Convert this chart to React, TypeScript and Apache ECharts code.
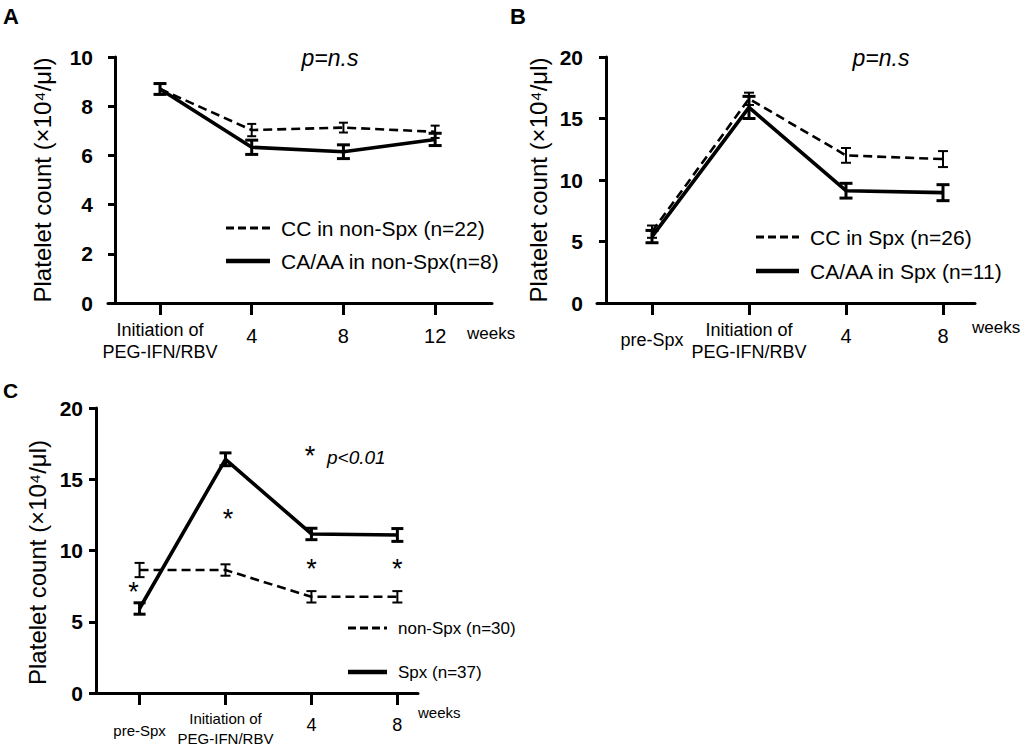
import React, { useEffect, useRef } from 'react';
import * as echarts from 'echarts';

// ---- Data ----
const catsA = ['Initiation of\nPEG-IFN/RBV', '4', '8', '12'];
const catsBC = ['pre-Spx', 'Initiation of\nPEG-IFN/RBV', '4', '8'];

const namesA = ['CC in non-Spx (n=22)', 'CA/AA in non-Spx(n=8)'];
const aCC = [8.7, 7.03, 7.13, 6.96];
const aCCErr = [0.22, 0.25, 0.2, 0.25];
const aCA = [8.7, 6.33, 6.15, 6.65];
const aCAErr = [0.22, 0.29, 0.28, 0.25];

const namesB = ['CC in Spx (n=26)', 'CA/AA in Spx (n=11)'];
const bCC = [5.8, 16.6, 12.0, 11.7];
const bCCErr = [0.5, 0.5, 0.6, 0.65];
const bCA = [5.4, 15.9, 9.13, 8.97];
const bCAErr = [0.5, 0.9, 0.6, 0.65];

const namesC = ['non-Spx (n=30)', 'Spx (n=37)'];
const cNon = [8.63, 8.63, 6.75, 6.75];
const cNonErr = [0.5, 0.4, 0.4, 0.4];
const cSpx = [5.93, 16.4, 11.16, 11.09];
const cSpxErr = [0.4, 0.45, 0.4, 0.45];
const cStarX = [-0.07, 1.03, 2, 3];
const cStarY = [7.4, 12.5, 9.0, 9.0];

const yNameText = 'Platelet count (×10⁴/μl)';
const FONT = '"Liberation Sans", Arial, Helvetica, sans-serif';

const DASH = [9, 5];

function labelFormatter(cats: string[]) {
  return (v: number) => {
    const s = cats[Math.round(v)];
    if (s === undefined) return '';
    if (s.indexOf('\n') >= 0) return s.split('\n').map((l) => `{t|${l}}`).join('\n');
    if (s === 'pre-Spx') return `{p|${s}}`;
    return `{n|${s}}`;
  };
}

function errSeries(idx: number, means: number[], errs: number[], cap: number, w: number) {
  return {
    type: 'custom',
    xAxisIndex: idx,
    yAxisIndex: idx,
    silent: true,
    z: 4,
    encode: { x: 0, y: [1, 2] },
    data: means.map((m, i) => [i, m - errs[i], m + errs[i]]),
    renderItem: (params: any, api: any) => {
      const lo = api.coord([api.value(0), api.value(1)]);
      const hi = api.coord([api.value(0), api.value(2)]);
      const style = { stroke: '#000', lineWidth: w };
      return {
        type: 'group',
        children: [
          { type: 'line', shape: { x1: lo[0], y1: lo[1], x2: hi[0], y2: hi[1] }, style },
          { type: 'line', shape: { x1: lo[0] - cap, y1: lo[1], x2: lo[0] + cap, y2: lo[1] }, style },
          { type: 'line', shape: { x1: hi[0] - cap, y1: hi[1], x2: hi[0] + cap, y2: hi[1] }, style },
        ],
      };
    },
  };
}

function lineSeries(idx: number, name: string, means: number[], dashed: boolean) {
  return {
    type: 'line',
    name,
    xAxisIndex: idx,
    yAxisIndex: idx,
    data: means.map((m, i) => [i, m]),
    symbol: 'none',
    silent: true,
    z: 3,
    lineStyle: { color: '#000', width: dashed ? 2.6 : 3.6, type: dashed ? DASH : 'solid' },
  };
}

function legendGraphic(x1: number, x2: number, y: number, gap: number, names: string[], fs: number) {
  return [
    { type: 'line', shape: { x1, y1: y, x2, y2: y }, style: { stroke: '#000', lineWidth: 3, lineDash: [8, 4] } },
    { type: 'line', shape: { x1, y1: y + gap, x2, y2: y + gap }, style: { stroke: '#000', lineWidth: 4.5 } },
    { type: 'text', x: x2 + 11, y, style: { text: names[0], font: `${fs}px ${FONT}`, fill: '#000', verticalAlign: 'middle', align: 'left' } },
    { type: 'text', x: x2 + 11, y: y + gap, style: { text: names[1], font: `${fs}px ${FONT}`, fill: '#000', verticalAlign: 'middle', align: 'left' } },
  ];
}

export default function App() {
  const ref = useRef<HTMLDivElement>(null);
  useEffect(() => {
    if (!ref.current) return;
    const chart = echarts.init(ref.current, null, { renderer: 'svg' });

    const axisLineStyle = { color: '#000', width: 3 };
    const mkX = (gi: number, min: number, max: number, cats: string[], margin: number, rich: any) => ({
      type: 'value',
      gridIndex: gi,
      min,
      max,
      axisLine: { show: true, onZero: false, lineStyle: axisLineStyle },
      axisTick: { show: true, customValues: [0, 1, 2, 3], length: 12, lineStyle: { color: '#000', width: 3 } },
      axisLabel: {
        show: true,
        customValues: [0, 1, 2, 3],
        formatter: labelFormatter(cats),
        margin,
        color: '#000',
        fontFamily: FONT,
        rich,
      },
      splitLine: { show: false },
    });
    const mkY = (gi: number, max: number, interval: number, offset: number, margin: number, nameGap: number, namePad: number[]) => ({
      type: 'value',
      gridIndex: gi,
      min: 0,
      max,
      interval,
      offset,
      name: yNameText,
      nameLocation: 'middle',
      nameGap,
      nameTextStyle: { fontSize: 24, color: '#000', fontFamily: FONT, padding: namePad },
      axisLine: { show: true, onZero: false, lineStyle: axisLineStyle },
      axisTick: { show: true, length: 7, lineStyle: { color: '#000', width: 3 } },
      axisLabel: { fontSize: 21, fontWeight: 'bold', color: '#000', fontFamily: FONT, margin },
      splitLine: { show: false },
    });

    const richAB = {
      t: { fontSize: 18, lineHeight: 22, color: '#000', fontFamily: FONT },
      n: { fontSize: 20, lineHeight: 34, color: '#000', fontFamily: FONT },
      p: { fontSize: 18, lineHeight: 42, color: '#000', fontFamily: FONT },
    };
    const richC = {
      t: { fontSize: 15, lineHeight: 20, color: '#000', fontFamily: FONT },
      n: { fontSize: 18, lineHeight: 34, color: '#000', fontFamily: FONT },
      p: { fontSize: 15, lineHeight: 44, color: '#000', fontFamily: FONT },
    };

    const option: any = {
      animation: false,
      backgroundColor: '#fff',
      grid: [
        { left: 108, top: 57, width: 384, height: 246 },
        { left: 597, top: 57, width: 378, height: 246 },
        { left: 91, top: 408, width: 327, height: 285 },
      ],
      xAxis: [
        mkX(0, -0.567, 3.62, catsA, 16, richAB),
        mkX(1, -0.567, 3.33, catsBC, 16, richAB),
        mkX(2, -0.565, 3.24, catsBC, 15, richC),
      ],
      yAxis: [
        mkY(0, 10, 2, -7, 22, 61, [0, 0, 0, 0]),
        mkY(1, 20, 5, -9, 23, 56, [0, 0, 0, 0]),
        mkY(2, 20, 5, -5, 13, 47, [0, 24, 0, 0]),
      ],
      series: [
        lineSeries(0, namesA[0], aCC, true),
        lineSeries(0, namesA[1], aCA, false),
        errSeries(0, aCC, aCCErr, 4.5, 2),
        errSeries(0, aCA, aCAErr, 6.5, 3),
        lineSeries(1, namesB[0], bCC, true),
        lineSeries(1, namesB[1], bCA, false),
        errSeries(1, bCC, bCCErr, 5, 2),
        errSeries(1, bCA, bCAErr, 6.5, 3),
        lineSeries(2, namesC[0], cNon, true),
        lineSeries(2, namesC[1], cSpx, false),
        errSeries(2, cNon, cNonErr, 5, 2),
        errSeries(2, cSpx, cSpxErr, 6, 3),
        {
          type: 'scatter',
          xAxisIndex: 2,
          yAxisIndex: 2,
          silent: true,
          symbolSize: 1,
          itemStyle: { color: 'transparent', opacity: 1 },
          data: cStarX.map((x, i) => [x, cStarY[i]]),
          label: {
            show: true,
            position: 'inside',
            formatter: '*',
            fontSize: 27,
            color: '#000',
            opacity: 1,
            textBorderWidth: 0,
            fontFamily: FONT,
            offset: [0, 4],
          },
        },
      ],
      graphic: [
        { type: 'text', x: 3, y: 5, style: { text: 'A', font: `bold 22px ${FONT}`, fill: '#000' } },
        { type: 'text', x: 510, y: 5, style: { text: 'B', font: `bold 22px ${FONT}`, fill: '#000' } },
        { type: 'text', x: 3, y: 380, style: { text: 'C', font: `bold 21px ${FONT}`, fill: '#000' } },
        { type: 'text', x: 330, y: 58, style: { text: 'p=n.s', font: `italic 23px ${FONT}`, fill: '#000', align: 'center', verticalAlign: 'middle' } },
        { type: 'text', x: 881, y: 58, style: { text: 'p=n.s', font: `italic 23px ${FONT}`, fill: '#000', align: 'center', verticalAlign: 'middle' } },
        { type: 'text', x: 467, y: 333, style: { text: 'weeks', font: `17px ${FONT}`, fill: '#000', verticalAlign: 'middle' } },
        { type: 'text', x: 972, y: 327, style: { text: 'weeks', font: `17px ${FONT}`, fill: '#000', verticalAlign: 'middle' } },
        { type: 'text', x: 418, y: 712, style: { text: 'weeks', font: `15px ${FONT}`, fill: '#000', verticalAlign: 'middle' } },
        { type: 'text', x: 310, y: 456, style: { text: '*', font: `27px ${FONT}`, fill: '#000', align: 'center', verticalAlign: 'middle' } },
        { type: 'text', x: 327, y: 457, style: { text: 'p<0.01', font: `italic 19px ${FONT}`, fill: '#000', verticalAlign: 'middle' } },
        ...legendGraphic(226, 270, 228, 33, namesA, 21),
        ...legendGraphic(756, 799, 237, 34, namesB, 21),
        ...legendGraphic(348, 387, 628, 44, namesC, 17),
      ],
    };
    chart.setOption(option);
    return () => chart.dispose();
  }, []);
  return <div ref={ref} style={{ position: 'fixed', left: 0, top: 0, width: 1024, height: 750, background: '#fff' }} />;
}
